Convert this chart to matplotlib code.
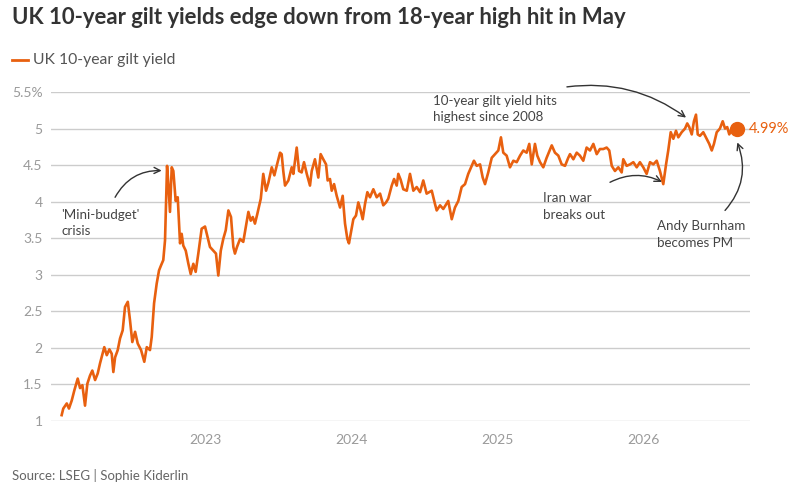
import matplotlib
matplotlib.use("Agg")
import matplotlib.pyplot as plt
from matplotlib.lines import Line2D

plt.rcParams['font.family'] = ['Lato', 'DejaVu Sans']

# ---- data (decimal year, yield %) ----
dates = [
    2022.018, 2022.029, 2022.053, 2022.068, 2022.087, 2022.105, 2022.128, 2022.144, 2022.160, 2022.178,
    2022.194, 2022.212, 2022.228, 2022.247, 2022.265, 2022.281, 2022.310, 2022.327, 2022.345, 2022.361,
    2022.372, 2022.384, 2022.402, 2022.418, 2022.436, 2022.452, 2022.471, 2022.486, 2022.502, 2022.521,
    2022.539, 2022.562, 2022.584, 2022.601, 2022.623, 2022.635, 2022.651, 2022.669, 2022.685, 2022.699,
    2022.714, 2022.726, 2022.740, 2022.749, 2022.760, 2022.772, 2022.783, 2022.799, 2022.813, 2022.829,
    2022.840, 2022.851, 2022.868, 2022.886, 2022.902, 2022.920, 2022.936, 2022.954, 2022.977, 2023.000,
    2023.018, 2023.034, 2023.057, 2023.075, 2023.091, 2023.108, 2023.125, 2023.142, 2023.160, 2023.178,
    2023.194, 2023.205, 2023.219, 2023.240, 2023.262, 2023.297, 2023.313, 2023.327, 2023.342, 2023.358,
    2023.382, 2023.399, 2023.418, 2023.434, 2023.457, 2023.475, 2023.491, 2023.514, 2023.525, 2023.536,
    2023.548, 2023.571, 2023.594, 2023.605, 2023.628, 2023.644, 2023.662, 2023.678, 2023.697, 2023.719,
    2023.731, 2023.753, 2023.776, 2023.792, 2023.810, 2023.829, 2023.840, 2023.856, 2023.868, 2023.884,
    2023.902, 2023.925, 2023.943, 2023.959, 2023.975, 2023.986, 2023.998, 2024.016, 2024.034, 2024.050,
    2024.066, 2024.080, 2024.096, 2024.112, 2024.130, 2024.153, 2024.176, 2024.199, 2024.221, 2024.240,
    2024.255, 2024.279, 2024.295, 2024.313, 2024.324, 2024.340, 2024.358, 2024.382, 2024.404, 2024.427,
    2024.450, 2024.473, 2024.495, 2024.518, 2024.553, 2024.575, 2024.587, 2024.610, 2024.632, 2024.666,
    2024.690, 2024.712, 2024.735, 2024.758, 2024.781, 2024.803, 2024.827, 2024.842, 2024.861, 2024.884,
    2024.902, 2024.918, 2024.940, 2024.964, 2024.986, 2025.009, 2025.027, 2025.043, 2025.066, 2025.089,
    2025.112, 2025.135, 2025.158, 2025.180, 2025.203, 2025.221, 2025.238, 2025.260, 2025.276, 2025.295,
    2025.317, 2025.340, 2025.375, 2025.397, 2025.420, 2025.443, 2025.466, 2025.488, 2025.500, 2025.523,
    2025.546, 2025.568, 2025.591, 2025.614, 2025.637, 2025.660, 2025.683, 2025.705, 2025.728, 2025.751,
    2025.769, 2025.786, 2025.808, 2025.831, 2025.854, 2025.865, 2025.888, 2025.911, 2025.934, 2025.957,
    2025.979, 2026.002, 2026.025, 2026.048, 2026.071, 2026.094, 2026.116, 2026.139, 2026.158, 2026.173,
    2026.190, 2026.208, 2026.226, 2026.242, 2026.265, 2026.288, 2026.303, 2026.317, 2026.334, 2026.349,
    2026.363, 2026.375, 2026.390, 2026.413, 2026.436, 2026.454, 2026.471, 2026.486, 2026.505, 2026.527,
    2026.546, 2026.562, 2026.577, 2026.591, 2026.608, 2026.630, 2026.642,
]
yields = [
    1.08, 1.17, 1.24, 1.17, 1.28, 1.42, 1.58, 1.45, 1.49, 1.21,
    1.51, 1.62, 1.69, 1.56, 1.65, 1.79, 2.01, 1.90, 1.98, 1.92,
    1.67, 1.87, 1.97, 2.13, 2.24, 2.56, 2.63, 2.38, 2.08, 2.22,
    2.06, 1.97, 1.81, 2.01, 1.97, 2.15, 2.61, 2.88, 3.06, 3.13,
    3.20, 3.47, 4.49, 4.24, 3.86, 4.47, 4.42, 4.01, 4.06, 3.43,
    3.56, 3.40, 3.33, 3.15, 3.01, 3.15, 3.04, 3.29, 3.63, 3.66,
    3.51, 3.38, 3.33, 3.29, 2.99, 3.33, 3.49, 3.61, 3.88, 3.79,
    3.38, 3.29, 3.38, 3.49, 3.45, 3.86, 3.74, 3.79, 3.70, 3.83,
    4.04, 4.38, 4.15, 4.26, 4.47, 4.36, 4.49, 4.67, 4.65, 4.42,
    4.22, 4.29, 4.47, 4.38, 4.74, 4.42, 4.40, 4.54, 4.38, 4.22,
    4.42, 4.58, 4.33, 4.65, 4.58, 4.51, 4.29, 4.31, 4.15, 4.24,
    4.08, 3.92, 4.08, 3.70, 3.49, 3.43, 3.56, 3.76, 3.81, 3.99,
    3.88, 3.76, 3.97, 4.13, 4.06, 4.17, 4.06, 4.11, 3.95, 3.99,
    4.04, 4.22, 4.31, 4.22, 4.38, 4.30, 4.17, 4.15, 4.38, 4.15,
    4.20, 4.13, 4.29, 4.11, 4.15, 3.97, 3.88, 3.95, 3.90, 4.01,
    3.76, 3.92, 4.01, 4.20, 4.24, 4.38, 4.49, 4.56, 4.49, 4.51,
    4.33, 4.24, 4.40, 4.60, 4.65, 4.70, 4.88, 4.67, 4.63, 4.47,
    4.56, 4.54, 4.63, 4.70, 4.67, 4.79, 4.51, 4.79, 4.63, 4.54,
    4.47, 4.60, 4.77, 4.67, 4.63, 4.51, 4.49, 4.60, 4.65, 4.58,
    4.67, 4.63, 4.56, 4.74, 4.70, 4.79, 4.65, 4.72, 4.72, 4.74,
    4.70, 4.49, 4.42, 4.47, 4.40, 4.58, 4.49, 4.51, 4.54, 4.47,
    4.54, 4.47, 4.38, 4.54, 4.51, 4.56, 4.42, 4.24, 4.51, 4.70,
    4.95, 4.86, 4.97, 4.88, 4.95, 5.00, 5.07, 5.02, 4.92, 5.10,
    5.19, 4.92, 4.90, 4.95, 4.86, 4.79, 4.70, 4.79, 4.95, 5.00,
    5.10, 5.00, 5.02, 4.92, 5.00, 4.97, 4.99,
]
year_ticks = [2023, 2024, 2025, 2026]
year_labels = ['2023', '2024', '2025', '2026']
y_ticks = [1, 1.5, 2, 2.5, 3, 3.5, 4, 4.5, 5, 5.5]
y_tick_labels = ['1', '1.5', '2', '2.5', '3', '3.5', '4', '4.5', '5', '5.5%']

title = "UK 10-year gilt yields edge down from 18-year high hit in May"
series_name = "UK 10-year gilt yield"
source = "Source: LSEG | Sophie Kiderlin"

ORANGE = '#e8600f'
GRID = '#cccccc'
TICK = '#9a9a9a'
ANN = '#444444'

W, H = 801, 491
fig = plt.figure(figsize=(W / 100, H / 100), dpi=100)
fig.patch.set_facecolor('white')


def fx(px):
    return px / W


def fy(py):
    return 1 - py / H


ax = fig.add_axes([fx(51), fy(421), (750 - 51) / W, (421 - 92) / H])
ax.plot(dates, yields, color=ORANGE, lw=1.9, solid_joinstyle='round', clip_on=False, zorder=3)
ax.plot(dates[-1], yields[-1], 'o', ms=10, color=ORANGE, clip_on=False, zorder=4)
ax.annotate(f"{yields[-1]:.2f}%", xy=(dates[-1], yields[-1]), xytext=(9, 0),
            textcoords='offset points', va='center', ha='left', color=ORANGE, fontsize=10.5,
            annotation_clip=False)

ax.set_xlim(2021.945, 2026.733)
ax.set_ylim(1, 5.5)
ax.set_yticks(y_ticks)
ax.set_yticklabels(y_tick_labels)
ax.set_xticks(year_ticks)
ax.set_xticklabels(year_labels)
ax.yaxis.grid(True, color=GRID, lw=1)
ax.xaxis.grid(False)
ax.set_axisbelow(True)
for s in ax.spines.values():
    s.set_visible(False)
ax.tick_params(axis='y', length=0, pad=6, labelcolor=TICK, labelsize=10)
ax.tick_params(axis='x', length=0, pad=9, labelcolor=TICK, labelsize=10)

arrow_kw = dict(arrowstyle='->', color='#333333', lw=1, shrinkA=0, shrinkB=0, mutation_scale=11)
ann_kw = dict(ha='left', va='center', fontsize=9.6, color=ANN, linespacing=1.45)

# annotations
ax.text(2022.014, 3.708, "'Mini-budget'\ncrisis", **ann_kw)
ax.annotate('', xy=(2022.703, 4.425), xytext=(2022.384, 4.06),
            arrowprops=dict(connectionstyle='arc3,rad=-0.3', **arrow_kw), annotation_clip=False)

ax.text(2024.564, 5.268, "10-year gilt yield hits\nhighest since 2008", **ann_kw)
ax.annotate('', xy=(2026.295, 5.15), xytext=(2025.479, 5.57),
            arrowprops=dict(connectionstyle='arc3,rad=-0.2', **arrow_kw), annotation_clip=False)

ax.text(2025.317, 3.933, "Iran war\nbreaks out", **ann_kw)
ax.annotate('', xy=(2026.130, 4.27), xytext=(2025.774, 4.265),
            arrowprops=dict(connectionstyle='arc3,rad=-0.25', **arrow_kw), annotation_clip=False)

ax.text(2026.094, 3.553, "Andy Burnham\nbecomes PM", **ann_kw)
ax.annotate('', xy=(2026.646, 4.81), xytext=(2026.562, 3.88),
            arrowprops=dict(connectionstyle='arc3,rad=0.3', **arrow_kw), annotation_clip=False)

# title, legend, source
fig.text(fx(12), fy(18), title, ha='left', va='center', fontsize=15.9, fontweight='bold', color='#333333')
fig.add_artist(Line2D([fx(12), fx(28)], [fy(60), fy(60)], color=ORANGE, lw=2))
fig.text(fx(33), fy(60), series_name, ha='left', va='center', fontsize=11.3, color='#555555')
fig.text(fx(12), fy(476), source, ha='left', va='center', fontsize=9.5, color='#666666')

fig.savefig('out.png', dpi=100)
